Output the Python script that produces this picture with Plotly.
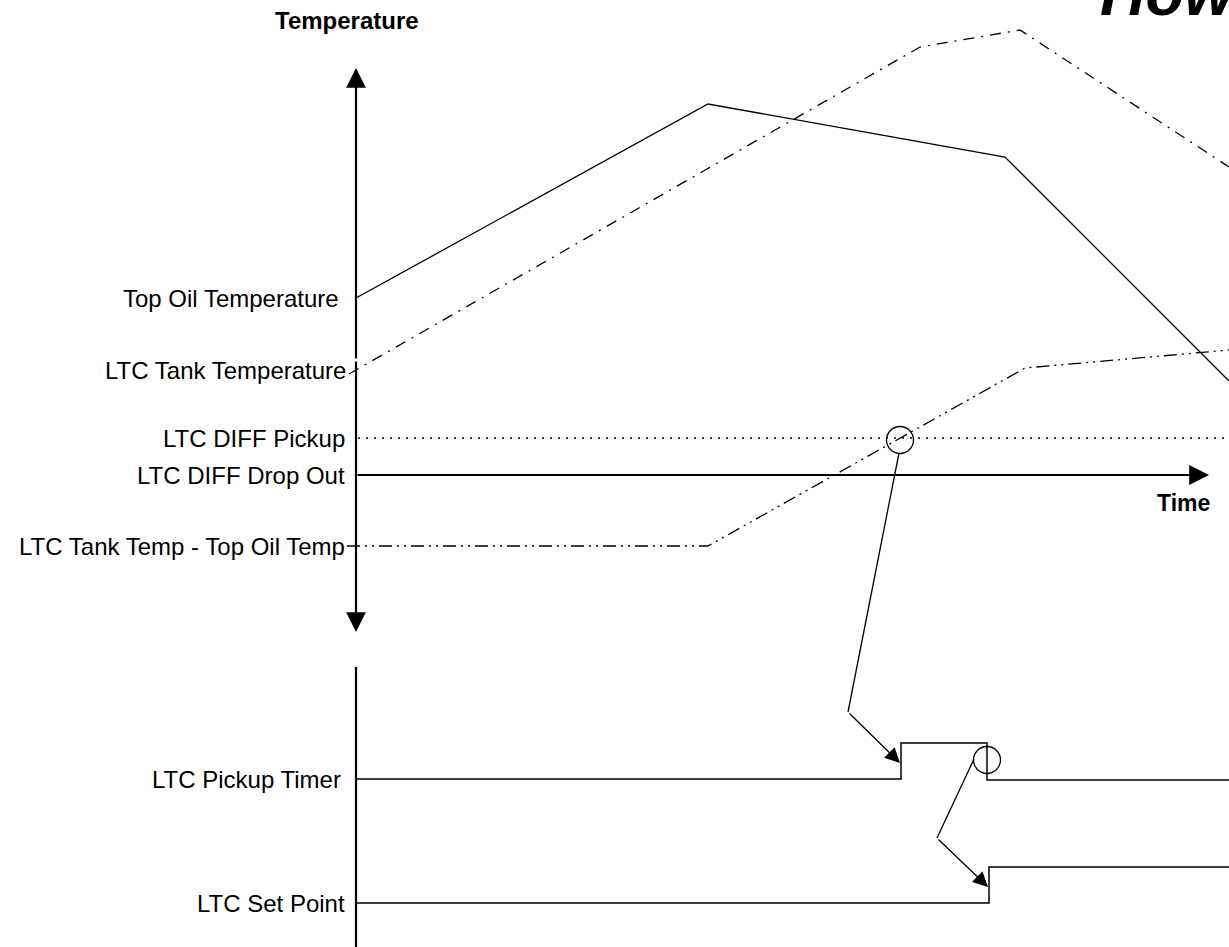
import plotly.graph_objects as go

# ---- diagram data (pixel-space coordinates of the schematic) ----
top_oil_x = [356, 708, 1005, 1229]
top_oil_y = [298, 104, 157, 381]

tank_x = [349, 920, 1020, 1229]
tank_y = [374, 47, 30, 167]

diff_x = [347, 708, 1025, 1229]
diff_y = [546, 546, 368, 350]

pickup_x = [358, 1229]
pickup_y = [438, 438]

timer_x = [356, 901, 901, 987, 987, 1229]
timer_y = [779, 779, 743, 743, 780, 780]

setpt_x = [356, 989, 989, 1229]
setpt_y = [903, 903, 867, 867]

lower_axis_x = [356, 356]
lower_axis_y = [667, 947]

callout1_x = [899, 848]
callout1_y = [453, 712]
callout1_tip = (900, 763)

callout2_x = [974, 937]
callout2_y = [759, 838]
callout2_tip = (988, 887)

circle_x = [900, 987]
circle_y = [440, 760]

labels = ["Top Oil Temperature", "LTC Tank Temperature", "LTC DIFF Pickup",
          "LTC DIFF Drop Out", "LTC Tank Temp - Top Oil Temp",
          "LTC Pickup Timer", "LTC Set Point"]
label_x = [341, 348, 347, 347, 347, 343, 347]
label_y = [298, 370, 438, 475, 546, 779, 903]

W, H = 1229, 947
FONT = "Liberation Sans, Arial, sans-serif"
thin = 1.3

fig = go.Figure()

def line(x, y, dash="solid", width=thin):
    fig.add_trace(go.Scatter(x=x, y=y, mode="lines", hoverinfo="skip",
                             line=dict(color="black", width=width, dash=dash)))

line(top_oil_x, top_oil_y)
line(tank_x, tank_y, dash="11px,7px,2px,7px")
line(diff_x, diff_y, dash="13px,5px,2px,5px,2px,5px")
line(pickup_x, pickup_y, dash="2px,6px")
line(timer_x, timer_y, width=1.5)
line(setpt_x, setpt_y, width=1.5)
line(lower_axis_x, lower_axis_y, width=2.2)
line(callout1_x, callout1_y)
line(callout2_x, callout2_y)

fig.add_trace(go.Scatter(x=circle_x, y=circle_y, mode="markers", hoverinfo="skip",
                         marker=dict(symbol="circle-open", size=27,
                                     color="black", line=dict(width=thin))))

# arrows (axes + callouts)
def arrow(x, y, ax, ay, width, size):
    fig.add_annotation(x=x, y=y, ax=ax, ay=ay, xref="x", yref="y",
                       axref="x", ayref="y", text="", showarrow=True,
                       arrowhead=2, arrowwidth=width, arrowsize=size,
                       arrowcolor="black", standoff=0, startstandoff=0)

arrow(356, 68, 356, 360, 2.2, 1.8)
arrow(356, 632, 356, 360, 2.2, 1.8)
arrow(1209, 475, 356, 475, 2.2, 1.8)
arrow(callout1_tip[0], callout1_tip[1], callout1_x[-1], callout1_y[-1], thin, 2.3)
arrow(callout2_tip[0], callout2_tip[1], callout2_x[-1], callout2_y[-1], thin, 2.3)

# labels
for t, lx, ly in zip(labels, label_x, label_y):
    fig.add_annotation(x=lx, y=ly, xref="x", yref="y", text=t, showarrow=False,
                       xanchor="right", yanchor="middle",
                       font=dict(family=FONT, size=24, color="black"))

fig.add_annotation(x=347, y=20, xref="x", yref="y", text="<b>Temperature</b>",
                   showarrow=False, xanchor="center", yanchor="middle",
                   font=dict(family=FONT, size=24, color="black"))
fig.add_annotation(x=1183, y=503, xref="x", yref="y", text="<b>Time</b>",
                   showarrow=False, xanchor="center", yanchor="middle",
                   font=dict(family=FONT, size=23, color="black"))
fig.add_annotation(x=1098, y=30, xref="x", yref="y", text="<b><i>How</i></b>",
                   showarrow=False, xanchor="left", yanchor="bottom",
                   font=dict(family=FONT, size=63, color="black"))

fig.update_layout(
    width=W, height=H, margin=dict(l=0, r=0, t=0, b=0),
    paper_bgcolor="white", plot_bgcolor="white", showlegend=False,
    xaxis=dict(range=[0, W], visible=False, fixedrange=True),
    yaxis=dict(range=[H, 0], visible=False, fixedrange=True),
)

fig.write_html("out.html", config={"displayModeBar": False},
               post_script="document.body.style.margin='0';"
                           "document.body.style.overflow='hidden';")
